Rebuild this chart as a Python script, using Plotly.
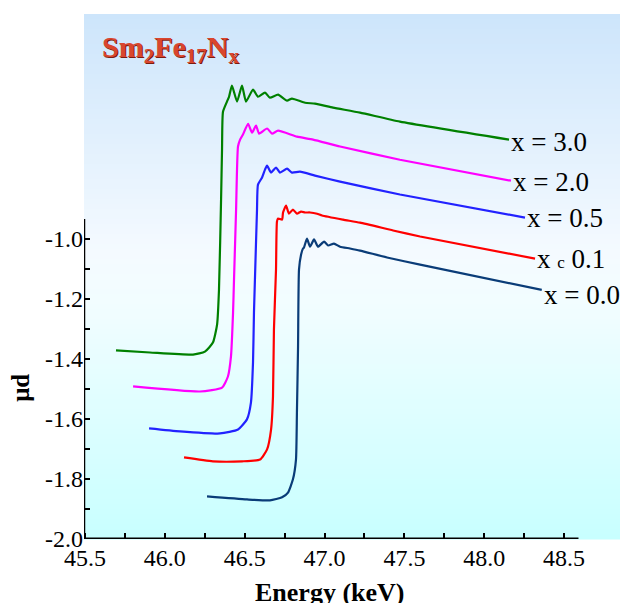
import plotly.graph_objects as go

# ---- data ----
x_30 = [45.694, 45.907, 46.176, 46.251, 46.301, 46.327, 46.339, 46.352, 46.358, 46.364, 46.389, 46.402, 46.420, 46.452, 46.483, 46.508, 46.552, 46.583, 46.627, 46.658, 46.709, 46.765, 46.796, 46.878, 46.940, 47.053, 47.222, 47.472, 48.155]
y_30 = [-1.372, -1.379, -1.386, -1.376, -1.346, -1.286, -1.169, -0.869, -0.702, -0.576, -0.542, -0.526, -0.489, -0.542, -0.489, -0.542, -0.502, -0.526, -0.512, -0.529, -0.519, -0.539, -0.532, -0.546, -0.549, -0.562, -0.579, -0.609, -0.669]

x_20 = [45.801, 46.220, 46.358, 46.395, 46.414, 46.427, 46.433, 46.446, 46.458, 46.471, 46.489, 46.521, 46.546, 46.571, 46.590, 46.640, 46.671, 46.709, 46.827, 46.928, 47.097, 47.472, 48.167]
y_20 = [-1.492, -1.509, -1.496, -1.459, -1.392, -1.246, -1.136, -0.902, -0.692, -0.669, -0.652, -0.616, -0.646, -0.622, -0.649, -0.632, -0.649, -0.639, -0.659, -0.669, -0.692, -0.736, -0.806]

x_05 = [45.901, 46.095, 46.345, 46.458, 46.514, 46.539, 46.552, 46.558, 46.564, 46.577, 46.583, 46.608, 46.627, 46.640, 46.665, 46.696, 46.721, 46.765, 46.796, 46.846, 46.940, 47.097, 47.472, 48.255]
y_05 = [-1.632, -1.642, -1.649, -1.636, -1.602, -1.546, -1.412, -1.246, -1.136, -0.902, -0.819, -0.796, -0.769, -0.756, -0.779, -0.762, -0.779, -0.766, -0.779, -0.776, -0.789, -0.809, -0.852, -0.929]

x_01 = [46.120, 46.301, 46.483, 46.596, 46.640, 46.665, 46.677, 46.683, 46.696, 46.702, 46.709, 46.734, 46.740, 46.759, 46.777, 46.802, 46.827, 46.853, 46.878, 46.909, 46.953, 46.984, 47.116, 47.222, 47.429, 47.598, 48.318]
y_01 = [-1.729, -1.742, -1.742, -1.736, -1.702, -1.636, -1.526, -1.302, -1.102, -0.942, -0.932, -0.936, -0.912, -0.889, -0.916, -0.902, -0.916, -0.909, -0.912, -0.912, -0.916, -0.922, -0.936, -0.946, -0.972, -0.992, -1.066]

x_00 = [46.264, 46.514, 46.658, 46.734, 46.771, 46.802, 46.821, 46.827, 46.834, 46.840, 46.853, 46.865, 46.871, 46.890, 46.909, 46.934, 46.959, 46.997, 47.022, 47.059, 47.097, 47.159, 47.222, 47.391, 47.598, 48.360]
y_00 = [-1.859, -1.869, -1.872, -1.862, -1.846, -1.802, -1.736, -1.579, -1.359, -1.102, -1.052, -1.032, -1.029, -0.999, -1.026, -1.002, -1.026, -1.009, -1.022, -1.016, -1.026, -1.032, -1.039, -1.062, -1.086, -1.170]

series_x = [x_30, x_20, x_05, x_01, x_00]
series_y = [y_30, y_20, y_05, y_01, y_00]
series_labels = ["x = 3.0", "x = 2.0", "x = 0.5", "x <span style='font-size:17px'>c</span> 0.1", "x = 0.0"]
series_colors = ["#008000", "#ff00ff", "#2222ff", "#ff0000", "#0a3c78"]
label_yshift = [-2, -1, 0, 0, -5]

x_tickvals = [45.5, 46.0, 46.5, 47.0, 47.5, 48.0, 48.5]
x_ticktext = ["45.5", "46.0", "46.5", "47.0", "47.5", "48.0", "48.5"]
x_minor = [45.75, 46.25, 46.75, 47.25, 47.75, 48.25]
y_tickvals = [-2.0, -1.8, -1.6, -1.4, -1.2, -1.0]
y_ticktext = ["-2.0", "-1.8", "-1.6", "-1.4", "-1.2", "-1.0"]
y_minor = [-1.9, -1.7, -1.5, -1.3, -1.1]

X_RANGE = [45.4937, 48.900]
Y_RANGE = [-2.001, -0.250]
X_AXIS_END = 48.59
Y_AXIS_END = -0.934

FONT = "Liberation Serif"

fig = go.Figure()
for xs, ys, col in zip(series_x, series_y, series_colors):
    fig.add_trace(go.Scatter(x=xs, y=ys, mode="lines",
                             line=dict(color=col, width=2.2, shape="spline", smoothing=0.5),
                             showlegend=False, hoverinfo="skip"))

# gradient background
stops = [(0.0, (205, 229, 251)), (0.45, (244, 250, 255)), (0.55, (242, 253, 255)), (1.0, (200, 255, 255))]
def col_at(t):
    for (t0, c0), (t1, c1) in zip(stops[:-1], stops[1:]):
        if t0 <= t <= t1:
            f = (t - t0) / (t1 - t0) if t1 > t0 else 0
            return "rgb(%d,%d,%d)" % tuple(round(a + (b - a) * f) for a, b in zip(c0, c1))
    return "rgb(%d,%d,%d)" % stops[-1][1]

shapes = []
N = 105
for i in range(N):
    t = (i + 0.5) / N
    shapes.append(dict(type="rect", xref="paper", yref="paper", x0=0, x1=1.02,
                       y0=1 - (i + 1) / N - 0.001, y1=1 - i / N,
                       fillcolor=col_at(t), line=dict(width=0), layer="below"))
# axis lines
shapes.append(dict(type="line", xref="x", yref="y", x0=X_RANGE[0], x1=X_AXIS_END, y0=-2.0, y1=-2.0,
                   line=dict(color="black", width=2.5), layer="above"))
shapes.append(dict(type="line", xref="x", yref="y", x0=X_RANGE[0], x1=X_RANGE[0], y0=-2.0, y1=Y_AXIS_END,
                   line=dict(color="black", width=2.5), layer="above"))

annotations = []
for xs, ys, lab, ysh in zip(series_x, series_y, series_labels, label_yshift):
    annotations.append(dict(x=xs[-1], y=ys[-1], xref="x", yref="y", text=lab, showarrow=False,
                            xanchor="left", yanchor="middle", xshift=0, yshift=ysh,
                            font=dict(family=FONT, size=27, color="black")))

title_txt = "Sm<sub>2</sub>Fe<sub>17</sub>N<sub>x</sub>"
annotations.append(dict(x=0.029, y=0.933, xref="paper", yref="paper", text="<b>" + title_txt + "</b>",
                        showarrow=False, xanchor="left", yanchor="middle", xshift=1, yshift=-1,
                        font=dict(family=FONT, size=30, color="#7a1c10")))
annotations.append(dict(x=0.029, y=0.933, xref="paper", yref="paper", text="<b>" + title_txt + "</b>",
                        showarrow=False, xanchor="left", yanchor="middle",
                        font=dict(family=FONT, size=30, color="#d9462e")))
annotations.append(dict(x=0.452, y=0, xref="paper", yref="paper", text="<b>Energy (keV)</b>",
                        showarrow=False, xanchor="center", yanchor="middle", yshift=-53,
                        font=dict(family=FONT, size=26, color="black")))
annotations.append(dict(x=0, y=0.288, xref="paper", yref="paper", text="<b>μd</b>", textangle=-90,
                        showarrow=False, xanchor="center", yanchor="middle", xshift=-63,
                        font=dict(family=FONT, size=25, color="black")))

# page body has an 8px margin: figure is shifted by 8px right and down
fig.update_layout(
    width=620, height=595,
    margin=dict(l=76, r=0, t=6, b=64),
    paper_bgcolor="white", plot_bgcolor="rgba(0,0,0,0)",
    shapes=shapes, annotations=annotations,
    xaxis=dict(range=X_RANGE, showgrid=False, zeroline=False, showline=False,
               tickvals=x_tickvals, ticktext=x_ticktext, ticks="inside", ticklen=6, tickwidth=2,
               tickcolor="black", tickfont=dict(family=FONT, size=24, color="black"),
               ticklabelstandoff=2,
               minor=dict(tickvals=x_minor, ticks="inside", ticklen=6, tickwidth=2, tickcolor="black")),
    yaxis=dict(range=Y_RANGE, showgrid=False, zeroline=False, showline=False,
               tickvals=y_tickvals, ticktext=y_ticktext, ticks="inside", ticklen=6, tickwidth=2,
               tickcolor="black", tickfont=dict(family=FONT, size=24, color="black"),
               minor=dict(tickvals=y_minor, ticks="inside", ticklen=6, tickwidth=2, tickcolor="black")),
)

fig.write_html("out.html")
